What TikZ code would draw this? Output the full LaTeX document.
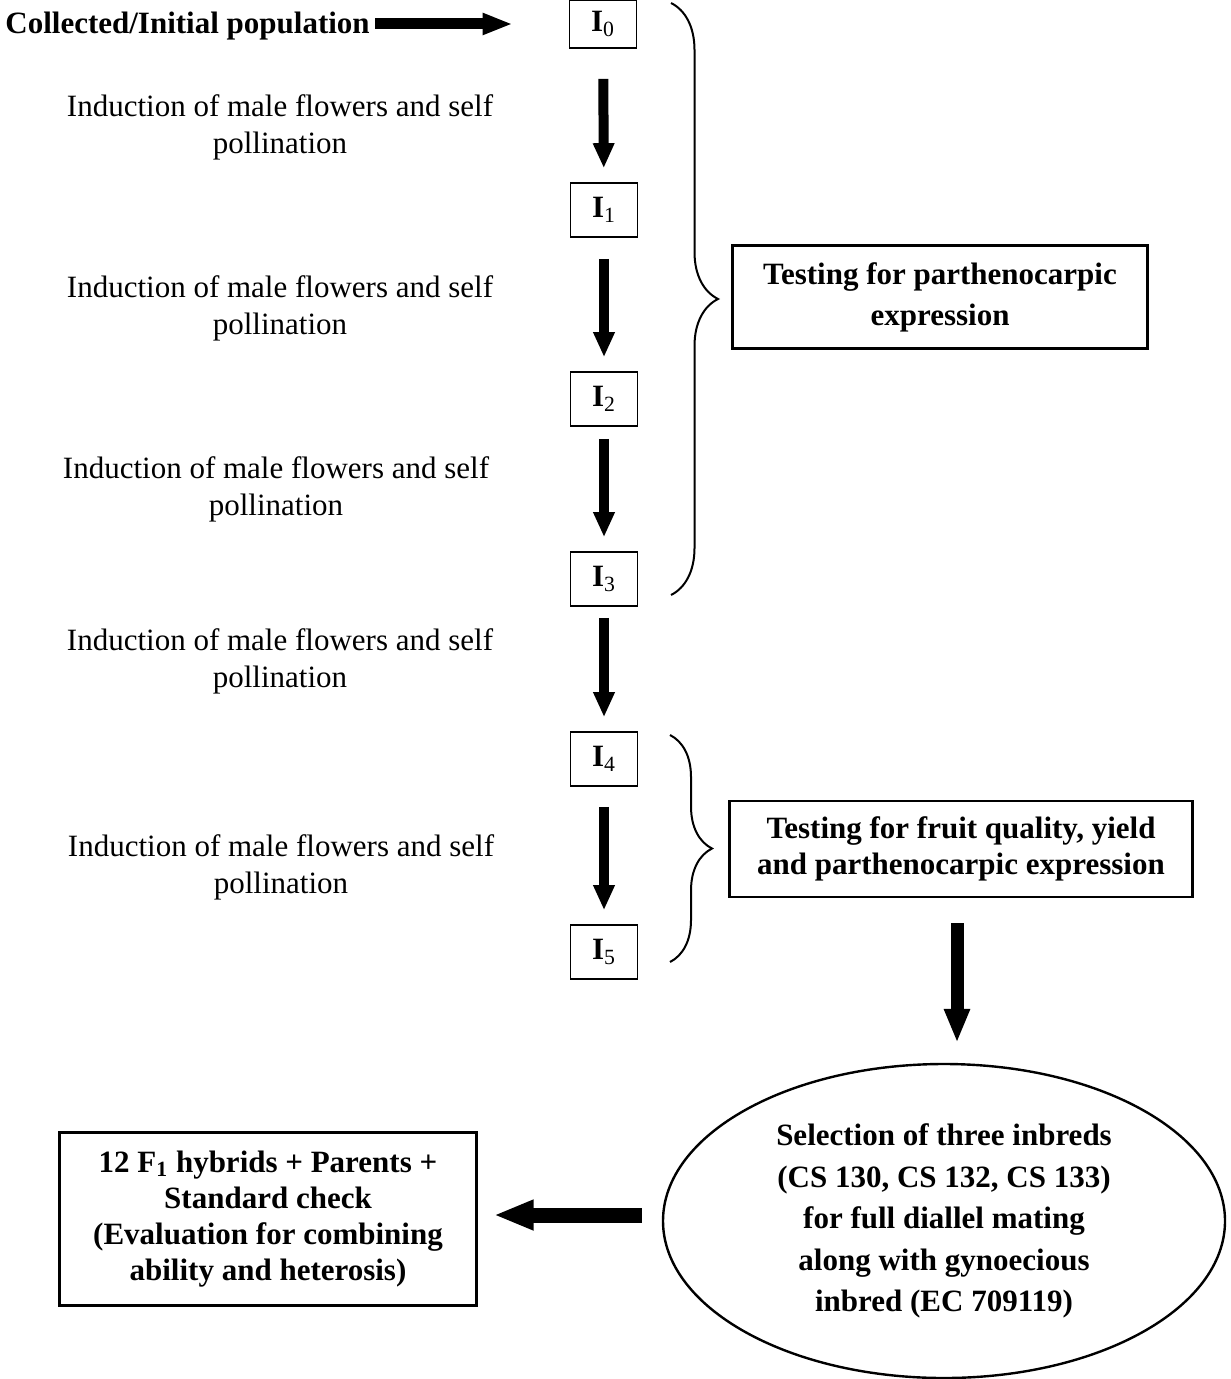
\documentclass[tikz,border=0pt]{standalone}
\usepackage{fontspec}
\setmainfont{Liberation Serif}
\usetikzlibrary{arrows.meta,shapes.geometric,decorations.pathreplacing}

\tikzset{
    gen/.style = {draw, line width=0.8pt, minimum width=33.5pt, minimum height=27pt,
        inner sep=0pt, font=\fontsize{15.5}{18.5}\selectfont\bfseries},
    induct/.style = {align=center, inner sep=0pt, font=\fontsize{15.5}{18.5}\selectfont},
    testbox/.style = {draw, line width=1.2pt, align=center, inner sep=0pt,
        font=\fontsize{15.5}{18}\selectfont\bfseries},
    downarrow/.style = {line width=5pt, -{Triangle[width=10pt,length=12.5pt]}},
    fatarrow/.style = {line width=6.5pt, -{Triangle[width=12pt,length=17pt]}},
    bracket/.style = {decorate, line width=1pt},
}

\begin{document}
\begin{tikzpicture}[x=0.5pt, y=-0.5pt]

    \useasboundingbox (0,0) rectangle (1230,1379);

    % inbred generations
    \node[gen, minimum height=24pt] (I0) at (603,24) {I\textsubscript{\mdseries 0}};
    \node[gen] (I1) at (604,210) {I\textsubscript{\mdseries 1}};
    \node[gen] (I2) at (604,399) {I\textsubscript{\mdseries 2}};
    \node[gen] (I3) at (604,579) {I\textsubscript{\mdseries 3}};
    \node[gen] (I4) at (604,759) {I\textsubscript{\mdseries 4}};
    \node[gen] (I5) at (604,952) {I\textsubscript{\mdseries 5}};

    \node[inner sep=0pt, anchor=west, font=\fontsize{15.5}{18.5}\selectfont\bfseries]
        (start) at (5,26) {Collected/Initial population};
    \draw[line width=5.5pt, -{Triangle[width=10pt,length=15pt]}, shorten <=2.5pt, shorten >=28pt]
        (start.east |- I0) -- (I0.west);

    \foreach \a/\b/\s in {0/1/15,1/2/10.5,2/3/6,3/4/5.5,4/5/10}
        \draw[downarrow, shorten <=\s pt, shorten >=7pt] (I\a) -- (I\b);

    \node[induct] (self1) at (280,127) {Induction of male flowers and self\\pollination};
    \node[induct] (self2) at (280,308) {Induction of male flowers and self\\pollination};
    \node[induct] (self3) at (276,489) {Induction of male flowers and self\\pollination};
    \node[induct] (self4) at (280,661) {Induction of male flowers and self\\pollination};
    \node[induct] (self5) at (281,867) {Induction of male flowers and self\\pollination};

    % braces and testing boxes
    \draw[bracket, decoration={brace, amplitude=23.5pt}] (671,3) -- (671,595);
    \draw[bracket, decoration={brace, amplitude=21pt}] (670,735) -- (670,962);

    \node[testbox, minimum width=207.5pt, minimum height=51.5pt,
        font=\fontsize{15.5}{20.5}\selectfont\bfseries] (parth) at (940,297)
        {Testing for parthenocarpic\\expression};
    \node[testbox, minimum width=231.5pt, minimum height=48pt] (fruit) at (961,849)
        {Testing for fruit quality, yield\\and parthenocarpic expression};

    \node[ellipse, draw, line width=1.2pt, minimum width=281pt, minimum height=157pt,
        inner sep=0pt, align=center, font=\fontsize{15.5}{20.75}\selectfont\bfseries]
        (select) at (944,1221)
        {Selection of three inbreds\\(CS 130, CS 132, CS 133)\\for full diallel mating\\along with gynoecious\\inbred (EC 709119)};

    \node[testbox, minimum width=208.5pt, minimum height=86.5pt] (hyb) at (268,1219)
        {12 F\textsubscript{1} hybrids + Parents +\\Standard check\\(Evaluation for combining\\ability and heterosis)};

    \draw[fatarrow, shorten <=12.5pt, shorten >=10pt] ([xshift=-2pt]fruit.south) -- ([xshift=-2pt]fruit.south |- select.north);
    \draw[line width=7.5pt, -{Triangle[width=14pt,length=20pt]}, shorten <=10pt, shorten >=8pt]
        ([yshift=3pt]select.west) -- ([yshift=3pt]select.west -| hyb.east);

\end{tikzpicture}
\end{document}
